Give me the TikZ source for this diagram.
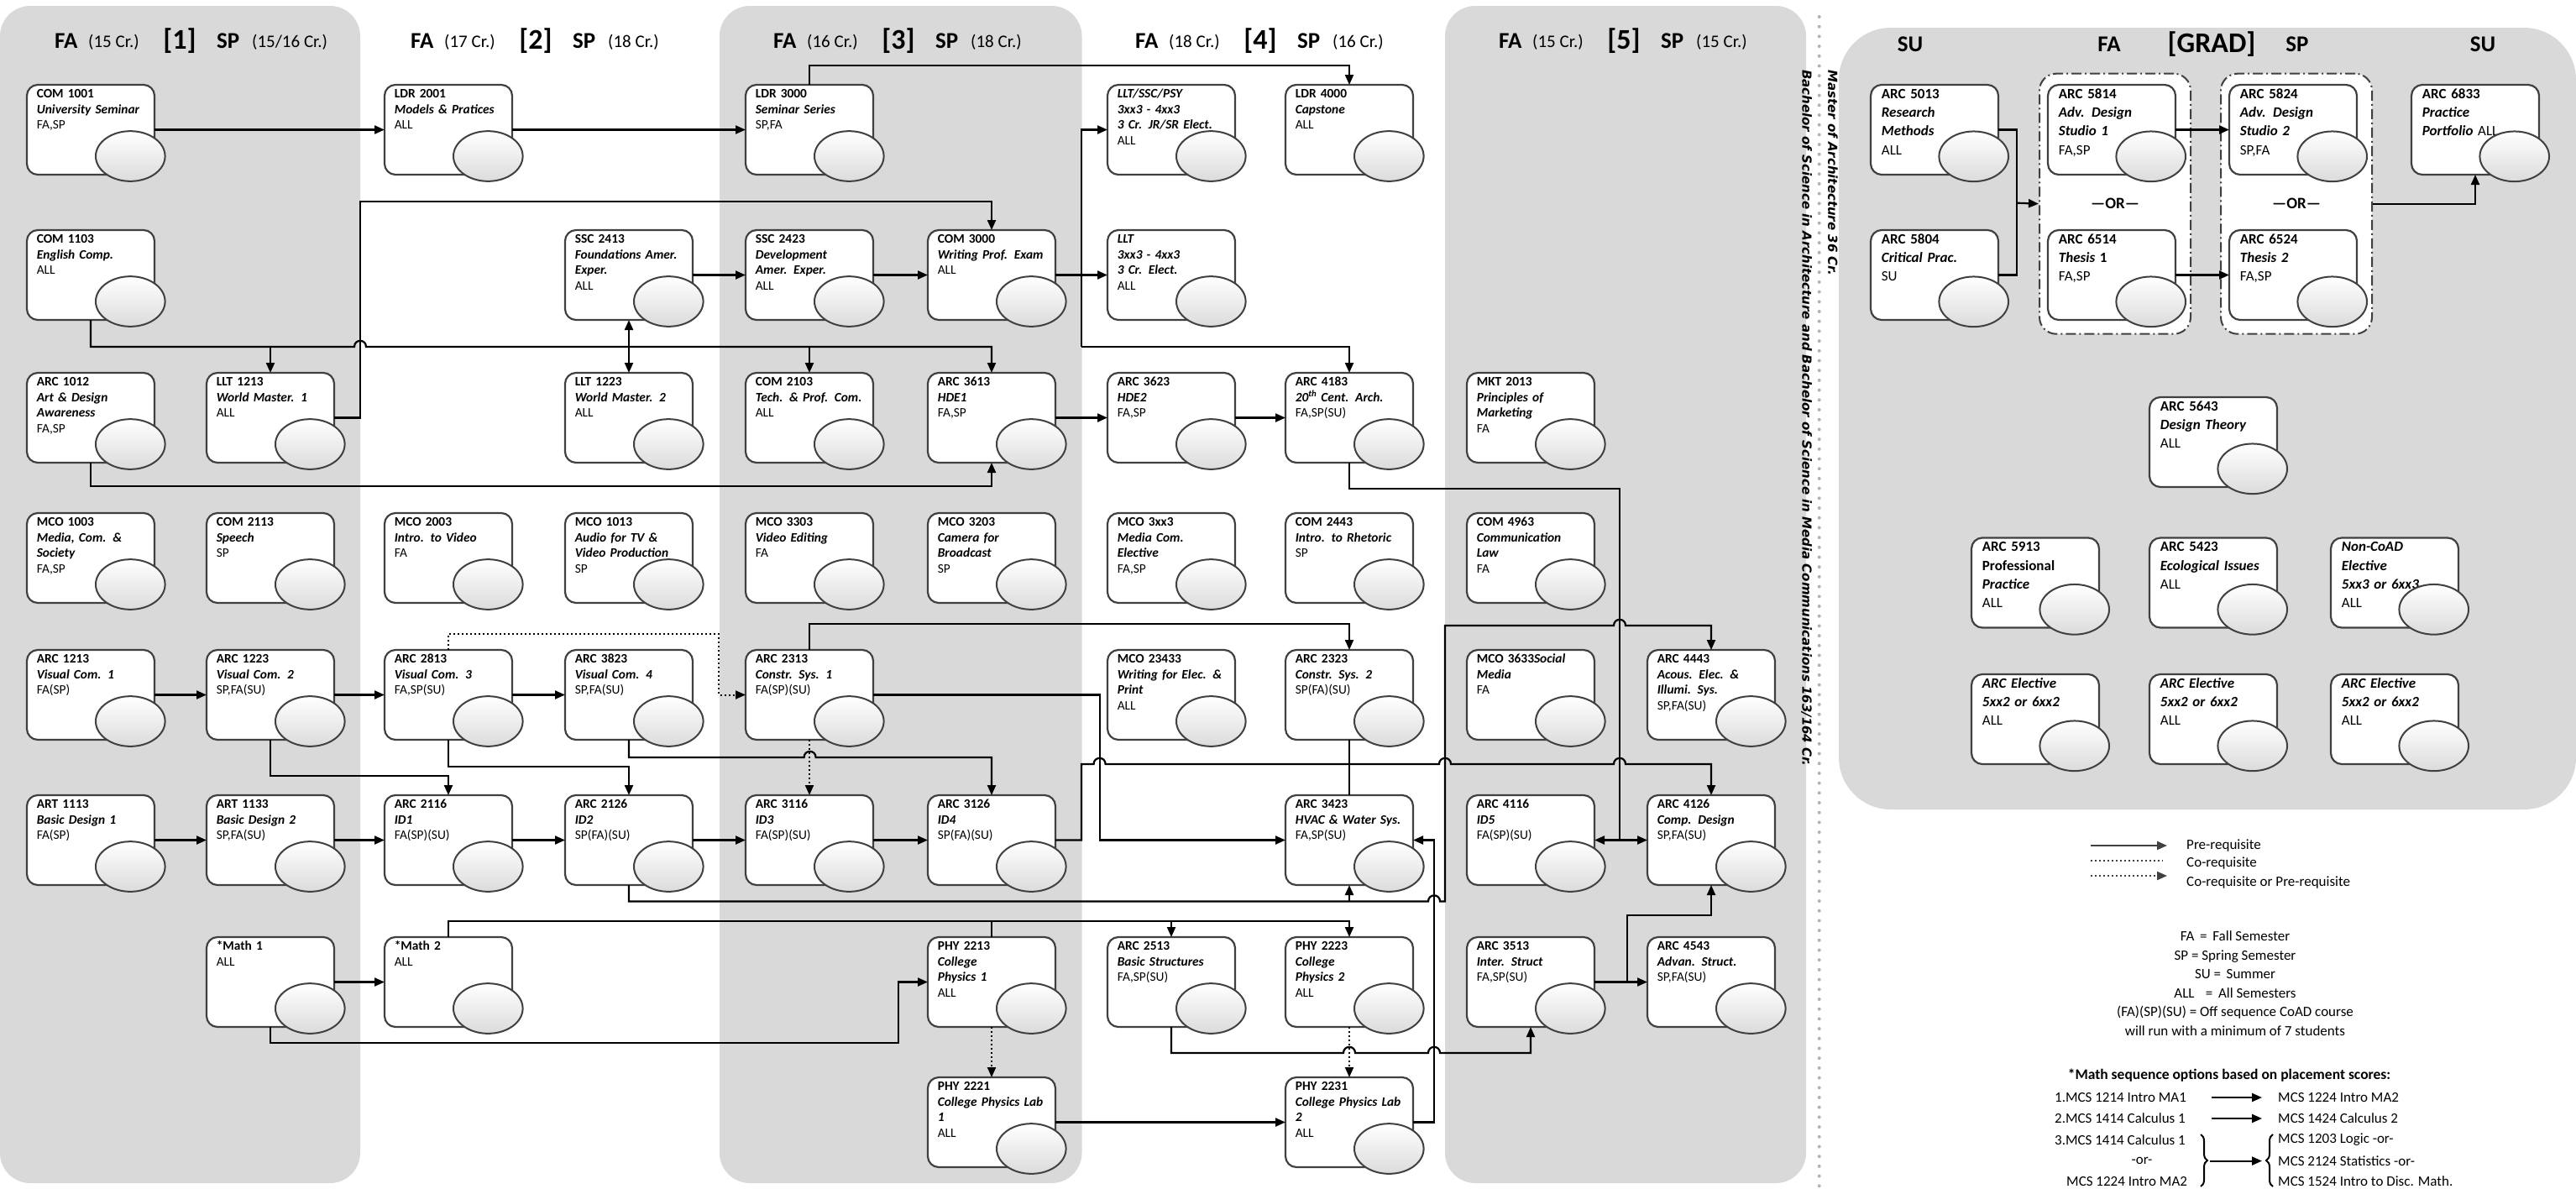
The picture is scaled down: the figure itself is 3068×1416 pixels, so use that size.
\documentclass[tikz,border=0pt]{standalone}
\usepackage{fontspec}
\setmainfont{Carlito}
\newfontfamily\vertfont{DejaVu Sans}
\usetikzlibrary{arrows.meta,shapes.geometric,decorations.pathreplacing}

\definecolor{panelgray}{RGB}{217,217,217}
\definecolor{boxline}{RGB}{64,64,64}
\definecolor{dotgray}{RGB}{178,178,178}

\newcommand\crsfont{\fontsize{15.4}{18.7}\selectfont}
\newcommand\gradfont{\fontsize{17}{22.3}\selectfont}
\newcommand\ccode[1]{\textbf{#1}}
\newcommand\ctitle[1]{\textbf{\textit{#1}}}

% course box: name, x, y, text
\newcommand\crs[4]{%
  \node[crsbox] (#1) at (#2,#3) {};
  \node[crstext] (#1txt) at ({#2+11.6},{#3+2.2}) {\strut#4};
  \node[ball] (#1ball) at ({#2+123.3},{#3+85}) {};
}
\newcommand\gcrs[4]{%
  \node[crsbox] (#1) at (#2,#3) {};
  \node[crstext,font=\gradfont] (#1txt) at ({#2+12.7},{#3+0.4}) {\strut#4};
  \node[ball] (#1ball) at ({#2+122.7},{#3+85.3}) {};
}
% line jump over a crossing
\newcommand\hop[2]{-- ({#1-7},#2) .. controls ({#1-7},{#2-9.5}) and ({#1+7},{#2-9.5}) .. ({#1+7},#2)}
% semester header: id, left x, number, FA credits, SP credits
\newcommand\semhead[5]{%
  \node[hdsem] (fa#1) at (#2,57) {FA};
  \node[hdcr] (facr#1) at ({#2+40},56) {(#4)};
  \node[hdnum] (num#1) at ({#2+149},58) {[#3]};
  \node[hdsem] (sp#1) at ({#2+193},57) {SP};
  \node[hdcr] (spcr#1) at ({#2+235},56) {(#5)};
}

\tikzset{
  panel/.style={fill=panelgray, rounded corners=36pt},
  crsbox/.style={draw=boxline, line width=2.2pt, fill=white, rounded corners=13pt,
    minimum width=152pt, minimum height=107pt, inner sep=0pt, outer sep=0pt, anchor=north west},
  crstext/.style={anchor=north west, inner sep=0pt, text width=150pt, align=left, font=\crsfont},
  ball/.style={ellipse, draw=boxline, line width=2pt, minimum width=82.6pt, minimum height=59.7pt,
    inner sep=0pt, top color=white, bottom color=black!14},
  grp/.style={draw=boxline, line width=2pt, fill=white, rounded corners=20pt,
    dash pattern=on 12pt off 4pt on 2pt off 4pt, minimum width=180pt, minimum height=310pt,
    inner sep=0pt, anchor=north west},
  ortext/.style={font=\fontsize{19}{22}\selectfont\bfseries, inner sep=0pt},
  hdsem/.style={anchor=base west, inner sep=0pt, font=\fontsize{27}{30}\selectfont\bfseries},
  hdcr/.style={anchor=base west, inner sep=0pt, font=\fontsize{21}{24}\selectfont},
  hdnum/.style={anchor=base, inner sep=0pt, font=\fontsize{34}{40}\selectfont\bfseries},
  vtext/.style={rotate=-90, anchor=west, inner sep=0pt,
    font=\vertfont\fontsize{15}{18}\selectfont\bfseries\itshape},
  sepdots/.style={dotgray, line width=4pt, line cap=round, dash pattern=on 0pt off 11.7pt},
  link/.style={line width=2.2pt},
  thinlink/.style={line width=1.3pt},
  pre/.style={link, -{Triangle[length=12pt,width=10pt]}},
  both/.style={link, {Triangle[length=12pt,width=10pt]}-{Triangle[length=12pt,width=10pt]}},
  coreq/.style={line width=2pt, dash pattern=on 2pt off 3pt},
  coorpre/.style={coreq, -{Triangle[length=12pt,width=10pt]}},
  legtext/.style={anchor=west, inner sep=0pt, font=\fontsize{17}{22.5}\selectfont},
  brc/.style={decorate, decoration={brace,amplitude=8pt}, line width=2pt},
}

\begin{document}
\begin{tikzpicture}[x=1pt,y=-1pt]
\useasboundingbox (0,0) rectangle (3068,1416);

% panels
\fill[panel] (0,7) rectangle (429,1409);
\fill[panel] (857,7) rectangle (1288.5,1409);
\fill[panel] (1721,7) rectangle (2151,1409);
\fill[panel, rounded corners=62pt] (2190,33) rectangle (3068,964);

\draw[sepdots] (2166.7,20) -- (2166.7,1416);
\node[vtext] (bachelor) at (2151.7,83) {Bachelor of Science in Architecture and Bachelor of Science in Media Communications 163/164 Cr.};
\node[vtext] (master) at (2183,83) {Master of Architecture 36 Cr.};

% headers
\semhead{1}{65}{1}{15 Cr.}{15/16 Cr.}
\semhead{2}{489}{2}{17 Cr.}{18 Cr.}
\semhead{3}{921}{3}{16 Cr.}{18 Cr.}
\semhead{4}{1352}{4}{18 Cr.}{16 Cr.}
\semhead{5}{1785}{5}{15 Cr.}{15 Cr.}
\node[hdsem, anchor=base] (gsu1) at (2275,61) {SU};
\node[hdsem, anchor=base] (gfa) at (2512,61) {FA};
\node[hdnum] (ggrad) at (2634,62) {[GRAD]};
\node[hdsem, anchor=base] (gsp) at (2736,61) {SP};
\node[hdsem, anchor=base] (gsu2) at (2957,61) {SU};

% row 1
\crs{com1001}{32}{101}{\ccode{COM 1001}\\\ctitle{University Seminar}\\FA,SP}
\crs{ldr2001}{458}{101}{\ccode{LDR 2001}\\\ctitle{Models \& Pratices}\\ALL}
\crs{ldr3000}{888}{101}{\ccode{LDR 3000}\\\ctitle{Seminar Series}\\SP,FA}
\crs{lltjr}{1319}{101}{\ctitle{LLT/SSC/PSY}\\\ctitle{3xx3 - 4xx3}\\\ctitle{3 Cr. JR/SR Elect.}\\ALL}
\crs{ldr4000}{1531}{101}{\ccode{LDR 4000}\\\ctitle{Capstone}\\ALL}
% row 2
\crs{com1103}{32}{274}{\ccode{COM 1103}\\\ctitle{English Comp.}\\ALL}
\crs{ssc2413}{673}{274}{\ccode{SSC 2413}\\\ctitle{Foundations Amer.}\\\ctitle{Exper.}\\ALL}
\crs{ssc2423}{888}{274}{\ccode{SSC 2423}\\\ctitle{Development}\\\ctitle{Amer. Exper.}\\ALL}
\crs{com3000}{1105}{274}{\ccode{COM 3000}\\\ctitle{Writing Prof. Exam}\\ALL}
\crs{lltel}{1319}{274}{\ctitle{LLT}\\\ctitle{3xx3 - 4xx3}\\\ctitle{3 Cr. Elect.}\\ALL}
% row 3
\crs{arc1012}{32}{444}{\ccode{ARC 1012}\\\ctitle{Art \& Design}\\\ctitle{Awareness}\\FA,SP}
\crs{llt1213}{246}{444}{\ccode{LLT 1213}\\\ctitle{World Master. 1}\\ALL}
\crs{llt1223}{673}{444}{\ccode{LLT 1223}\\\ctitle{World Master. 2}\\ALL}
\crs{com2103}{888}{444}{\ccode{COM 2103}\\\ctitle{Tech. \& Prof. Com.}\\ALL}
\crs{arc3613}{1105}{444}{\ccode{ARC 3613}\\\ctitle{HDE1}\\FA,SP}
\crs{arc3623}{1319}{444}{\ccode{ARC 3623}\\\ctitle{HDE2}\\FA,SP}
\crs{arc4183}{1531}{444}{\ccode{ARC 4183}\\\ctitle{20\textsuperscript{th} Cent. Arch.}\\FA,SP(SU)}
\crs{mkt2013}{1747}{444}{\ccode{MKT 2013}\\\ctitle{Principles of}\\\ctitle{Marketing}\\FA}
% row 4
\crs{mco1003}{32}{611}{\ccode{MCO 1003}\\\ctitle{Media, Com. \&}\\\ctitle{Society}\\FA,SP}
\crs{com2113}{246}{611}{\ccode{COM 2113}\\\ctitle{Speech}\\SP}
\crs{mco2003}{458}{611}{\ccode{MCO 2003}\\\ctitle{Intro. to Video}\\FA}
\crs{mco1013}{673}{611}{\ccode{MCO 1013}\\\ctitle{Audio for TV \&}\\\ctitle{Video Production}\\SP}
\crs{mco3303}{888}{611}{\ccode{MCO 3303}\\\ctitle{Video Editing}\\FA}
\crs{mco3203}{1105}{611}{\ccode{MCO 3203}\\\ctitle{Camera for}\\\ctitle{Broadcast}\\SP}
\crs{mco3xx3}{1319}{611}{\ccode{MCO 3xx3}\\\ctitle{Media Com.}\\\ctitle{Elective}\\FA,SP}
\crs{com2443}{1531}{611}{\ccode{COM 2443}\\\ctitle{Intro. to Rhetoric}\\SP}
\crs{com4963}{1747}{611}{\ccode{COM 4963}\\\ctitle{Communication}\\\ctitle{Law}\\FA}
% row 5
\crs{arc1213}{32}{774}{\ccode{ARC 1213}\\\ctitle{Visual Com. 1}\\FA(SP)}
\crs{arc1223}{246}{774}{\ccode{ARC 1223}\\\ctitle{Visual Com. 2}\\SP,FA(SU)}
\crs{arc2813}{458}{774}{\ccode{ARC 2813}\\\ctitle{Visual Com. 3}\\FA,SP(SU)}
\crs{arc3823}{673}{774}{\ccode{ARC 3823}\\\ctitle{Visual Com. 4}\\SP,FA(SU)}
\crs{arc2313}{888}{774}{\ccode{ARC 2313}\\\ctitle{Constr. Sys. 1}\\FA(SP)(SU)}
\crs{mco23433}{1319}{774}{\ccode{MCO 23433}\\\ctitle{Writing for Elec. \&}\\\ctitle{Print}\\ALL}
\crs{arc2323}{1531}{774}{\ccode{ARC 2323}\\\ctitle{Constr. Sys. 2}\\SP(FA)(SU)}
\crs{mco3633}{1747}{774}{\ccode{MCO 3633}\ctitle{Social}\\\ctitle{Media}\\FA}
\crs{arc4443}{1962}{774}{\ccode{ARC 4443}\\\ctitle{Acous. Elec. \&}\\\ctitle{Illumi. Sys.}\\SP,FA(SU)}
% row 6
\crs{art1113}{32}{947}{\ccode{ART 1113}\\\ctitle{Basic Design 1}\\FA(SP)}
\crs{art1133}{246}{947}{\ccode{ART 1133}\\\ctitle{Basic Design 2}\\SP,FA(SU)}
\crs{arc2116}{458}{947}{\ccode{ARC 2116}\\\ctitle{ID1}\\FA(SP)(SU)}
\crs{arc2126}{673}{947}{\ccode{ARC 2126}\\\ctitle{ID2}\\SP(FA)(SU)}
\crs{arc3116}{888}{947}{\ccode{ARC 3116}\\\ctitle{ID3}\\FA(SP)(SU)}
\crs{arc3126}{1105}{947}{\ccode{ARC 3126}\\\ctitle{ID4}\\SP(FA)(SU)}
\crs{arc3423}{1531}{947}{\ccode{ARC 3423}\\\ctitle{HVAC \& Water Sys.}\\FA,SP(SU)}
\crs{arc4116}{1747}{947}{\ccode{ARC 4116}\\\ctitle{ID5}\\FA(SP)(SU)}
\crs{arc4126}{1962}{947}{\ccode{ARC 4126}\\\ctitle{Comp. Design}\\SP,FA(SU)}
% row 7
\crs{math1}{246}{1116}{\ccode{*Math 1}\\ALL}
\crs{math2}{458}{1116}{\ccode{*Math 2}\\ALL}
\crs{phy2213}{1105}{1116}{\ccode{PHY 2213}\\\ctitle{College}\\\ctitle{Physics 1}\\ALL}
\crs{arc2513}{1319}{1116}{\ccode{ARC 2513}\\\ctitle{Basic Structures}\\FA,SP(SU)}
\crs{phy2223}{1531}{1116}{\ccode{PHY 2223}\\\ctitle{College}\\\ctitle{Physics 2}\\ALL}
\crs{arc3513}{1747}{1116}{\ccode{ARC 3513}\\\ctitle{Inter. Struct}\\FA,SP(SU)}
\crs{arc4543}{1962}{1116}{\ccode{ARC 4543}\\\ctitle{Advan. Struct.}\\SP,FA(SU)}
% row 8
\crs{phy2221}{1105}{1283}{\ccode{PHY 2221}\\\ctitle{College Physics Lab}\\\ctitle{1}\\ALL}
\crs{phy2231}{1531}{1283}{\ccode{PHY 2231}\\\ctitle{College Physics Lab}\\\ctitle{2}\\ALL}

% graduate
\node[grp] (grp1) at (2428,86.7) {};
\node[grp] (grp2) at (2644,86.7) {};
\node[ortext] (or1) at (grp1.center) {---OR---};
\node[ortext] (or2) at (grp2.center) {---OR---};
\gcrs{arc5013}{2228}{101}{\ccode{ARC 5013}\\\ctitle{Research}\\\ctitle{Methods}\\ALL}
\gcrs{arc5804}{2228}{274}{\ccode{ARC 5804}\\\ctitle{Critical Prac.}\\SU}
\gcrs{arc5814}{2439}{101}{\ccode{ARC 5814}\\\ctitle{Adv. Design}\\\ctitle{Studio 1}\\FA,SP}
\gcrs{arc6514}{2439}{274}{\ccode{ARC 6514}\\\ccode{\textit{Thesis} 1}\\FA,SP}
\gcrs{arc5824}{2655}{101}{\ccode{ARC 5824}\\\ctitle{Adv. Design}\\\ctitle{Studio 2}\\SP,FA}
\gcrs{arc6524}{2655}{274}{\ccode{ARC 6524}\\\ctitle{Thesis 2}\\FA,SP}
\gcrs{arc6833}{2872}{101}{\ccode{ARC 6833}\\\ctitle{Practice}\\\ctitle{Portfolio} ALL}
\gcrs{arc5643}{2560}{473}{\ccode{ARC 5643}\\\ctitle{Design Theory}\\ALL}
\gcrs{arc5913}{2348}{640.5}{\ccode{ARC 5913}\\\ccode{Professional}\\\ctitle{Practice}\\ALL}
\gcrs{arc5423}{2560}{640.5}{\ccode{ARC 5423}\\\ctitle{Ecological Issues}\\ALL}
\gcrs{noncoad}{2776}{640.5}{\ctitle{Non-CoAD}\\\ctitle{Elective}\\\ctitle{5xx3 or 6xx3}\\ALL}
\gcrs{eleca}{2348}{803}{\ctitle{ARC Elective}\\\ctitle{5xx2 or 6xx2}\\ALL}
\gcrs{elecb}{2560}{803}{\ctitle{ARC Elective}\\\ctitle{5xx2 or 6xx2}\\ALL}
\gcrs{elecc}{2776}{803}{\ctitle{ARC Elective}\\\ctitle{5xx2 or 6xx2}\\ALL}

% junctions
\coordinate (j1103) at (108,413);
\coordinate (j3000) at (1288,327.5);
\coordinate (j3000b) at (1288,413);
\coordinate (j4183) at (1929,1000.5);
\coordinate (j2126) at (1607,1073.5);
\coordinate (jmath) at (1395,1097);
\coordinate (j3513) at (1938,1169.5);
\coordinate (jgrad) at (2402,241.7);

% prerequisites
\draw[pre] (com1001.east) -- (ldr2001.west);
\draw[pre] (ldr2001.east) -- (ldr3000.west);
\draw[pre] (ldr3000.north) -- ++(0,-23) -| (ldr4000.north);
\draw[pre] (com1103.south) -- (j1103) \hop{429}{413} -- (1181,413) -- (arc3613.north);
\draw[pre] (322,413) -- (llt1213.north);
\draw[pre] (964,413) -- (com2103.north);
\draw[pre] (llt1213.east) -| (429,240) -| (com3000.north);
\draw[both] (ssc2413.south) -- (llt1223.north);
\draw[pre] (ssc2413.east) -- (ssc2423.west);
\draw[pre] (ssc2423.east) -- (com3000.west);
\draw[link] (com3000.east) -- (j3000);
\draw[pre] (j3000) -- (lltel.west);
\draw[pre] (j3000b) |- (lltjr.west);
\draw[pre] (j3000b) -| (arc4183.north);
\draw[pre] (arc1012.south) -- ++(0,28) -| (arc3613.south);
\draw[pre] (arc3613.east) -- (arc3623.west);
\draw[pre] (arc3623.east) -- (arc4183.west);
\draw[link] (arc4183.south) |- (1929,582) -- (j4183);
\draw[pre] (j4183) -- (arc4116.east);
\draw[pre] (j4183) -- (arc4126.west);

\draw[pre] (arc1213.east) -- (arc1223.west);
\draw[pre] (arc1223.east) -- (arc2813.west);
\draw[pre] (arc2813.east) -- (arc3823.west);
\draw[pre] (art1113.east) -- (art1133.west);
\draw[pre] (art1133.east) -- (arc2116.west);
\draw[pre] (arc2116.east) -- (arc2126.west);
\draw[pre] (arc2126.east) -- (arc3116.west);
\draw[pre] (arc3116.east) -- (arc3126.west);
\draw[pre] (arc1223.south) |- (534,924) -- (arc2116.north);
\draw[pre] (arc2813.south) |- (749,913) -- (arc2126.north);
\draw[coorpre] (arc2813.north) |- (856,755) -- (856,827.5) -- (arc2313.west);
\draw[coorpre] (arc2313.south) -- (arc3116.north);
\draw[pre] (arc3823.south) -- (749,902) \hop{964.6}{902} -- (1181,902) -- (arc3126.north);
\draw[pre] (arc2313.north) |- (1607,743) -- (arc2323.north);
\draw[pre] (arc2313.east) -| (1309.6,1000.5) -- (arc3423.west);
\draw[thinlink] (arc2323.south) -- (arc3423.north);
\draw[pre] (arc3126.east) -| (1288,910) \hop{1309.6}{910} \hop{1721}{910} \hop{1929}{910} -- (2038,910) -- (arc4126.north);
\draw[pre] (arc2126.south) -- (749,1073.5) \hop{1708}{1073.5} -- (1721,1073.5) -- (1721,745) \hop{1929}{745} -- (2038,745) -- (arc4443.north);
\draw[pre] (j2126) -- (arc3423.south);

\draw[pre] (math1.east) -- (math2.west);
\draw[pre] (math1.south) |- (1070,1242) |- (phy2213.west);
\draw[pre] (math2.north) |- (1607,1097) -- (phy2223.north);
\draw[pre] (jmath) -- (arc2513.north);
\draw[link] (phy2213.north) -- (1181,1097);
\draw[coorpre] (phy2213.south) -- (phy2221.north);
\draw[coorpre] (phy2223.south) -- (phy2231.north);
\draw[pre] (phy2221.east) -- (phy2231.west);
\draw[pre] (phy2231.east) -| (1708,1000.5) -- (arc3423.east);
\draw[pre] (arc2513.south) -- (1395,1254) \hop{1607}{1254} \hop{1708}{1254} -- (1823,1254) -- (arc3513.south);
\draw[pre] (arc3513.east) -- (arc4543.west);
\draw[pre] (j3513) |- (2038,1090) -- (arc4126.south);

\draw[link] (arc5013.east) -| (jgrad);
\draw[link] (arc5804.east) -| (jgrad);
\draw[pre] (jgrad) -- (grp1.west);
\draw[pre] (arc5814.east) -- (arc5824.west);
\draw[pre] (arc6514.east) -- (arc6524.west);
\draw[pre] (grp2.east) -| (arc6833.south);

% legend
\draw[pre, boxline] (2490,1007) -- (2581,1007);
\draw[coreq, boxline] (2490,1025) -- (2576,1025);
\draw[coorpre, boxline] (2490,1043) -- (2581,1043);
\node[legtext] (lgpre) at (2604,1007) {Pre-requisite};
\node[legtext] (lgco) at (2604,1028) {Co-requisite};
\node[legtext] (lgcopre) at (2604,1051) {Co-requisite or Pre-requisite};
\node[legtext, anchor=center, align=center] (lgsem) at (2662,1171)
  {FA \,=\, Fall Semester\\SP = Spring Semester\\SU = \,Summer\\ALL \;\;=\, All Semesters\\(FA)(SP)(SU) = Off sequence CoAD course\\will run with a minimum of 7 students};

\node[legtext, anchor=center, font=\fontsize{17.5}{22}\selectfont\bfseries] (mathhd) at (2655,1281) {*Math sequence options based on placement scores:};
\node[legtext] (m1a) at (2447,1307) {1.MCS 1214 Intro MA1};
\node[legtext] (m1b) at (2713,1307) {MCS 1224 Intro MA2};
\node[legtext] (m2a) at (2447,1332) {2.MCS 1414 Calculus 1};
\node[legtext] (m2b) at (2713,1332) {MCS 1424 Calculus 2};
\node[legtext] (m3a) at (2447,1357.5) {3.MCS 1414 Calculus 1};
\node[legtext, anchor=center] (m3or) at (2551,1382.6) {-or-};
\node[legtext] (m3c) at (2461,1407) {MCS 1224 Intro MA2};
\node[legtext] (m3d) at (2713,1357.5) {MCS 1203 Logic -or-};
\node[legtext] (m3e) at (2713,1382.6) {MCS 2124 Statistics -or-};
\node[legtext] (m3f) at (2713,1407) {MCS 1524 Intro to Disc. Math.};
\draw[pre] (m1a.east -| 2634,0) -- (m1b.west -| 2694,0);
\draw[pre] (m2a.east -| 2634,0) -- (m2b.west -| 2694,0);
\draw[brc] (2621,1351) -- (2621,1413);
\draw[pre] (2632,1382.6) -- (2694,1382.6);
\draw[brc] (2707,1413) -- (2707,1351);
\end{tikzpicture}
\end{document}
